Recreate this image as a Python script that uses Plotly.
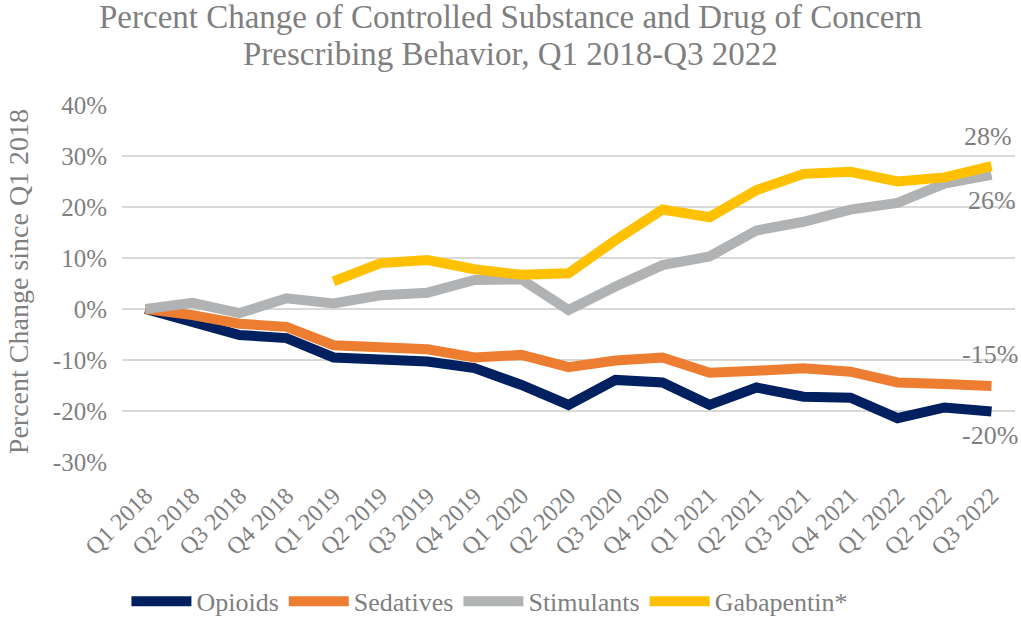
import plotly.graph_objects as go

# Quarterly periods on the category axis
quarters = [
    "Q1 2018", "Q2 2018", "Q3 2018", "Q4 2018",
    "Q1 2019", "Q2 2019", "Q3 2019", "Q4 2019",
    "Q1 2020", "Q2 2020", "Q3 2020", "Q4 2020",
    "Q1 2021", "Q2 2021", "Q3 2021", "Q4 2021",
    "Q1 2022", "Q2 2022", "Q3 2022",
]

# Percent change since Q1 2018, per drug class
opioids = [0.0, -2.5, -5.1, -5.7, -9.5, -9.9, -10.3, -11.6, -14.9, -18.8,
           -13.9, -14.4, -18.8, -15.4, -17.2, -17.4, -21.4, -19.3, -20.1]
sedatives = [0.0, -1.2, -2.9, -3.5, -7.1, -7.4, -7.9, -9.5, -9.0, -11.4,
             -10.1, -9.5, -12.5, -12.1, -11.6, -12.3, -14.4, -14.7, -15.1]
stimulants = [0.0, 1.2, -0.8, 2.1, 1.1, 2.7, 3.2, 5.7, 5.8, -0.2,
              4.4, 8.6, 10.3, 15.4, 17.1, 19.5, 20.8, 24.6, 26.3]
gabapentin = [None, None, None, None, 5.4, 9.0, 9.6, 7.8, 6.7, 7.0,
              13.5, 19.5, 18.0, 23.3, 26.5, 26.9, 25.0, 25.8, 28.0]

y_ticks = [-30, -20, -10, 0, 10, 20, 30, 40]

title_lines = [
    "Percent Change of Controlled Substance and Drug of Concern",
    "Prescribing Behavior, Q1 2018-Q3 2022",
]

series = [
    ("Opioids", opioids, "#002060"),
    ("Sedatives", sedatives, "#ED7D31"),
    ("Stimulants", stimulants, "#B1B2B4"),
    ("Gabapentin*", gabapentin, "#FFC000"),
]

# End-of-line value labels: (series values, x shift, y shift)
end_labels = [
    (gabapentin, -4, 30),
    (stimulants, 0, -26),
    (sedatives, -2, 32),
    (opioids, -2, -24),
]

FONT = "Liberation Serif, Times New Roman, serif"
GREY = "#7f7f7f"

# Series are drawn in order, later ones on top
fig = go.Figure()
for name, vals, color in series:
    fig.add_trace(go.Scatter(
        x=quarters, y=vals, name=name, mode="lines",
        line=dict(color=color, width=10),
        connectgaps=False,
    ))

annotations = []
for vals, dx, dy in end_labels:
    v = vals[-1]
    annotations.append(dict(
        x=quarters[-1], y=v, xref="x", yref="y",
        text=f"{round(v):d}%", showarrow=False,
        xshift=dx, yshift=dy,
        font=dict(family=FONT, size=26, color=GREY),
    ))

# Two-line chart title, tight line spacing
for text, ypos in zip(title_lines, [1.2465, 1.143]):
    annotations.append(dict(
        x=0.4346, y=ypos, xref="paper", yref="paper",
        text=text, showarrow=False, xanchor="center", yanchor="middle",
        font=dict(family=FONT, size=33, color=GREY),
    ))

# Vertical axis title
annotations.append(dict(
    x=-0.116, y=0.505, xref="paper", yref="paper",
    text="Percent Change since Q1 2018", showarrow=False,
    textangle=-90, xanchor="center", yanchor="middle",
    font=dict(family=FONT, size=28, color=GREY),
))

fig.update_layout(
    width=1021, height=620,
    paper_bgcolor="white", plot_bgcolor="white",
    margin=dict(l=121.5, r=5.5, t=105, b=158, autoexpand=False),
    font=dict(family=FONT, color=GREY),
    xaxis=dict(
        type="category", categoryorder="array", categoryarray=quarters,
        range=[-0.5, len(quarters) - 0.5],
        showgrid=False, zeroline=False, showline=False,
        tickangle=-45, ticks="", ticklabelstandoff=14,
        tickfont=dict(family=FONT, size=24, color=GREY),
    ),
    yaxis=dict(
        range=[-30, 40], tickvals=y_ticks,
        ticktext=[f"{t}%" for t in y_ticks],
        showgrid=True, gridcolor="#d9d9d9", gridwidth=1.5,
        zeroline=False, showline=False, ticks="", ticklabelstandoff=14,
        tickfont=dict(family=FONT, size=25, color=GREY),
    ),
    legend=dict(
        orientation="h", x=0.412, xanchor="center",
        y=-0.39, yanchor="middle",
        font=dict(family=FONT, size=26, color=GREY),
        traceorder="normal", itemwidth=60,
    ),
    annotations=annotations,
    showlegend=True,
)

fig.write_html("out.html")
